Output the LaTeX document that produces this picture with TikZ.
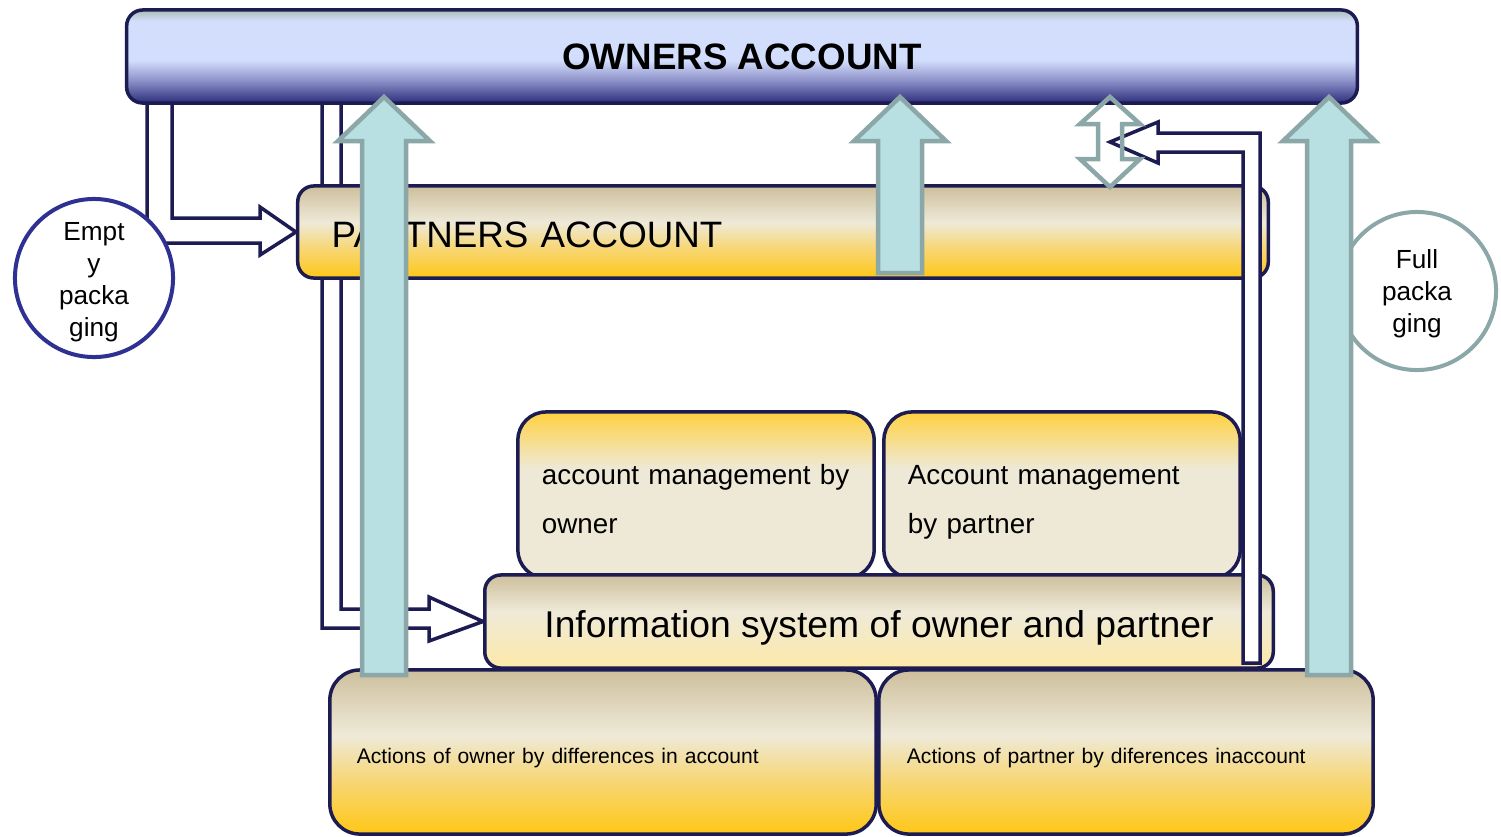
\documentclass[tikz,border=0pt]{standalone}
\usepackage{fontspec}
\setmainfont{Liberation Sans}
\usetikzlibrary{backgrounds}

% colours
\definecolor{navyline}{HTML}{1C1B52}
\definecolor{circblue}{HTML}{2E3192}
\definecolor{tealfill}{HTML}{B8DFE1}
\definecolor{tealline}{HTML}{8BA7A8}
\definecolor{owntop}{HTML}{A9BDB5}
\definecolor{ownlight}{HTML}{D3DEFC}
\definecolor{ownmid}{HTML}{8C90C8}
\definecolor{ownbot}{HTML}{2C2D7B}
\definecolor{boxtan}{HTML}{CDBF9D}
\definecolor{boxcream}{HTML}{EFEAD8}
\definecolor{goldmid}{HTML}{F6D77A}
\definecolor{goldbot}{HTML}{FFC716}
\definecolor{infobot}{HTML}{FDE9A8}
\definecolor{mgmttop}{HTML}{FFD140}
\definecolor{mgmtcream}{HTML}{EEE9D6}

% vertical shadings (25bp = bottom, 75bp = top of the box)
\pgfdeclareverticalshading{ownersshade}{100bp}{color(0bp)=(ownbot); color(25bp)=(ownbot); color(37bp)=(ownmid); color(48bp)=(ownlight); color(69bp)=(ownlight); color(75bp)=(owntop); color(100bp)=(owntop)}
\pgfdeclareverticalshading{goldshade}{100bp}{color(0bp)=(goldbot); color(25bp)=(goldbot); color(42bp)=(goldmid); color(55bp)=(boxcream); color(75bp)=(boxtan); color(100bp)=(boxtan)}
\pgfdeclareverticalshading{infoshade}{100bp}{color(0bp)=(infobot); color(25bp)=(infobot); color(55bp)=(boxcream); color(75bp)=(boxtan); color(100bp)=(boxtan)}
\pgfdeclareverticalshading{mgmtshade}{100bp}{color(0bp)=(mgmtcream); color(58bp)=(mgmtcream); color(75bp)=(mgmttop); color(100bp)=(mgmttop)}

\begin{document}
\begin{tikzpicture}[x=0.01cm, y=-0.01cm,
  acctbox/.style={draw=navyline, line width=0.035cm, rounded corners=0.16cm, inner sep=0pt, shade},
  mgmtbox/.style={acctbox, rounded corners=0.28cm, shading=mgmtshade, minimum width=3.56cm, minimum height=1.66cm, text width=3.08cm, align=left, text height=0.2cm, text depth=0.42cm, font=\fontsize{7.9}{14.2}\selectfont},
  actbox/.style={acctbox, rounded corners=0.3cm, shading=goldshade, minimum height=1.64cm, align=left, text height=0.22cm, text depth=0pt, font=\fontsize{6}{8}\selectfont},
  navyarrow/.style={draw=navyline, line width=0.035cm, fill=white, line join=miter},
  tealarrow/.style={draw=tealline, line width=0.045cm, fill=tealfill, line join=miter},
  packcircle/.style={circle, fill=white, line width=0.04cm, minimum size=1.58cm, inner sep=0pt, align=center, text depth=0.055cm, font=\fontsize{7.45}{9.1}\selectfont}]

\useasboundingbox (0,0) rectangle (1501,836);

% Accounts
\node[acctbox, shading=ownersshade, minimum width=12.30cm, minimum height=0.93cm, font=\bfseries\fontsize{10.45}{12}\selectfont] (owners) at (742,56.5) {OWNERS ACCOUNT};
\node[acctbox, shading=goldshade, minimum width=9.70cm, minimum height=0.92cm, text width=9.02cm, align=left, text height=0.3cm, text depth=0pt, font=\fontsize{10.45}{12}\selectfont] (partners) at (783,232) {PARTNERS ACCOUNT};

% Account management
\node[mgmtbox] (mgmtowner) at (696,495) {account management by\\owner};
\node[mgmtbox] (mgmtpartner) at (1062,495) {Account management\\by partner};

% Information system
\node[acctbox, shading=infoshade, minimum width=7.88cm, minimum height=0.93cm, text height=0.31cm, text depth=0pt, font=\fontsize{10.6}{12}\selectfont] (infosys) at (879,621.5) {Information system of owner and partner};

% Actions
\node[actbox, minimum width=5.46cm, text width=4.92cm] (actowner) at (603,752) {Actions of owner by differences in account};
\node[actbox, minimum width=4.94cm, text width=4.38cm] (actpartner) at (1126,752) {Actions of partner by diferences inaccount};

% Bent arrows out of the owners account (behind the boxes)
\begin{scope}[on background layer]
  \draw[navyarrow] (147,0 |- owners.south) -- (147,243) -- (260,243) -- (260,255) -- (partners.west)
    -- (260,207) -- (260,218) -- (172,218) -- (172,0 |- owners.south);
  \draw[navyarrow] (322,0 |- owners.south) -- (322,628) -- (429,628) -- (429,641) -- (infosys.west)
    -- (429,597) -- (429,609) -- (341,609) -- (341,0 |- owners.south);
\end{scope}

% Return arrow from the information system
\coordinate (dblmid) at (1110,142);
\draw[navyarrow] (dblmid) -- (1158,122) -- (1158,133) -- (1260,133) -- (1260,663) -- (1243,663)
  -- (1243,152) -- (1158,152) -- (1158,163) -- cycle;

% Packaging
\node[packcircle, draw=circblue, text height=1.23cm] (emptypack) at (94,278) {Empt\\y\\packa\\ging};
\node[packcircle, draw=tealline, text height=0.89cm] (fullpack) at (1417,291) {Full\\packa\\ging};

% Upward block arrows
\foreach \x/\ybot in {384/675, 900/273, 1329/675} {
  \draw[tealarrow] (\x-22,\ybot) -- (\x-22,141) -- (\x-46,141) -- (\x,97) -- (\x+46,141) -- (\x+22,141) -- (\x+22,\ybot) -- cycle;
}
\draw[draw=tealline, line width=0.045cm, line join=miter] (1110,97) -- (1140,124) -- (1122,124) -- (1122,159) -- (1140,159)
  -- (1110,187) -- (1080,159) -- (1098,159) -- (1098,124) -- (1080,124) -- cycle;

\end{tikzpicture}
\end{document}
